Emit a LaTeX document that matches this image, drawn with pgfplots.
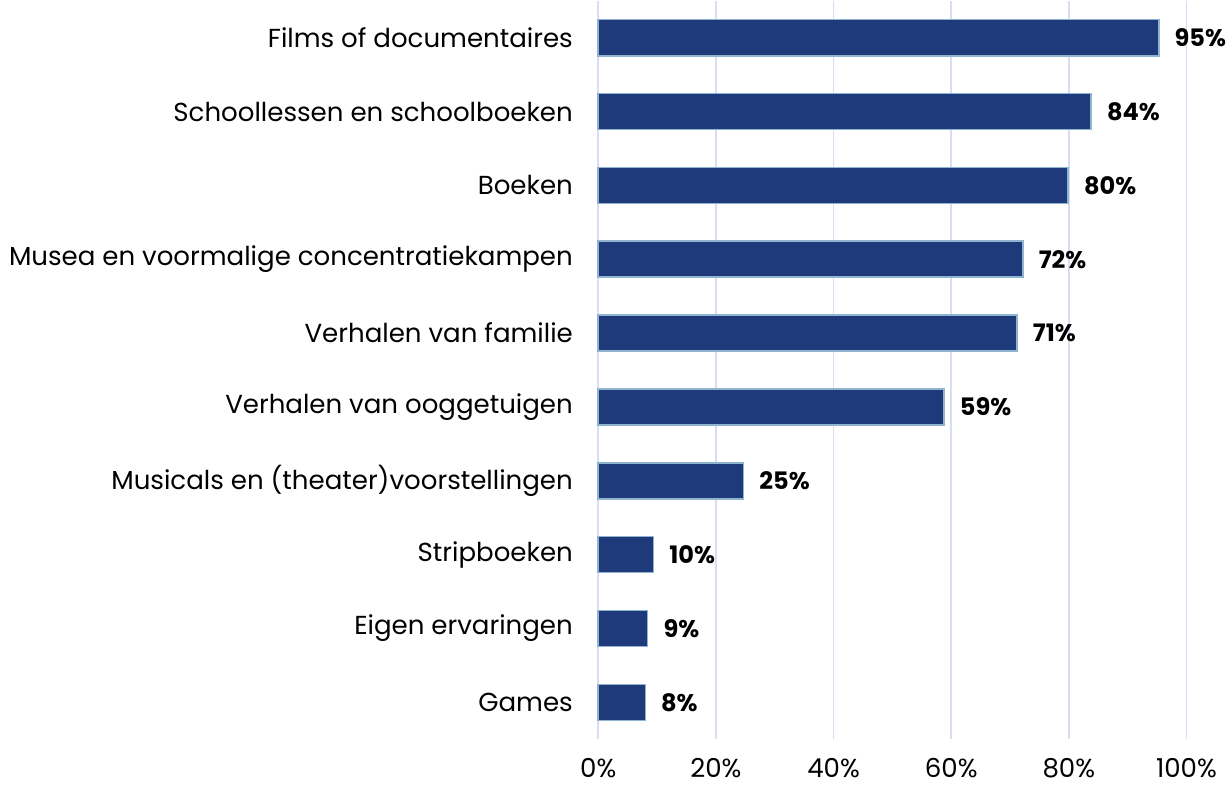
\documentclass[border=0pt]{standalone}
\usepackage{fontspec}
\setmainfont{Poppins}
\usepackage{pgfplots}
\pgfplotsset{compat=1.18}
\definecolor{barNavy}{HTML}{1F3A7A}
\definecolor{barEdge}{HTML}{8FB4CF}
\definecolor{gridLav}{HTML}{D6DDF4}

\begin{document}
\begin{tikzpicture}
\begin{axis}[
    scale only axis,
    width=293.5pt, height=368.5pt,
    xbar, bar width=18pt,
    xmin=0, xmax=100,
    ymin=-0.5, ymax=9.5,
    y dir=reverse,
    ytick={0,...,9},
    yticklabels={Films of documentaires, Schoollessen en schoolboeken, Boeken,
        Musea en voormalige concentratiekampen, Verhalen van familie,
        Verhalen van ooggetuigen, Musicals en (theater)voorstellingen,
        Stripboeken, Eigen ervaringen, Games},
    xtick={0,20,...,100},
    xticklabel={\pgfmathprintnumber{\tick}\%},
    /pgf/number format/assume math mode=true,
    xmajorgrids, grid style={gridLav, line width=0.8pt},
    axis line style={draw=none},
    major tick length=0pt,
    tick label style={font=\fontsize{13}{15}\selectfont, text=black},
    yticklabel style={inner sep=0pt, xshift=-12.5pt},
    xticklabel style={yshift=-6pt},
    clip=false,
    nodes near coords,
    point meta=explicit symbolic,
    nodes near coords style={anchor=west, inner sep=0pt, xshift=7.5pt,
        font=\fontsize{12}{14}\selectfont\bfseries, text=black},
]
\addplot[fill=barNavy, draw=barEdge, line width=0.8pt] coordinates {
    (95.3,0) [95\%]
    (83.8,1) [84\%]
    (79.9,2) [80\%]
    (72.2,3) [72\%]
    (71.2,4) [71\%]
    (58.8,5) [59\%]
    (24.7,6) [25\%]
    (9.4,7) [10\%]
    (8.4,8) [9\%]
    (8.0,9) [8\%]
};
\end{axis}
% a little room on the left, as in the reference
\path (current bounding box.south west) ++(-4.5pt,0);
\end{tikzpicture}
\end{document}
